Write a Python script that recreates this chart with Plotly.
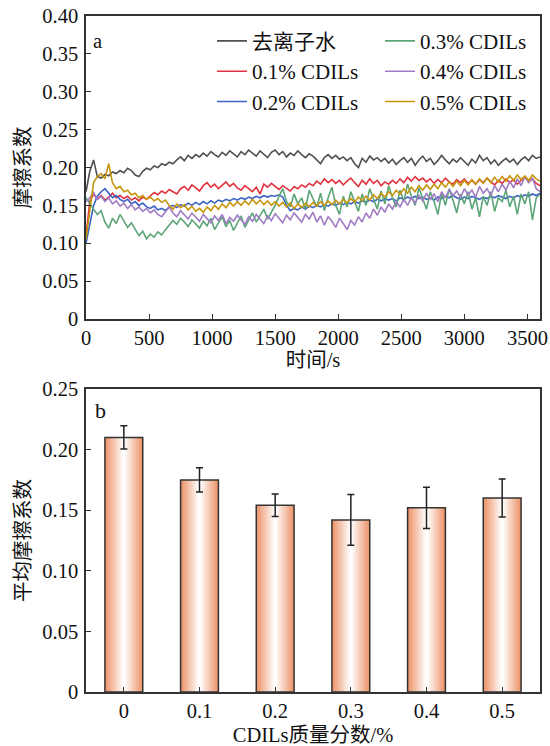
import plotly.graph_objects as go

# ---------------- data: panel a (friction coefficient vs time) ----------------
time_s = list(range(0, 3601, 30))

water = [0.168, 0.195, 0.210, 0.188, 0.186, 0.191, 0.189, 0.194, 0.192, 0.196,
         0.193, 0.199, 0.196, 0.190, 0.188, 0.195, 0.199, 0.197, 0.202, 0.200,
         0.205, 0.203, 0.207, 0.205, 0.210, 0.214, 0.209, 0.216, 0.212, 0.217,
         0.214, 0.219, 0.215, 0.221, 0.217, 0.214, 0.220, 0.216, 0.222, 0.218,
         0.214, 0.221, 0.217, 0.223, 0.219, 0.215, 0.222, 0.218, 0.213, 0.220,
         0.223, 0.217, 0.221, 0.214, 0.219, 0.216, 0.222, 0.217, 0.213, 0.218,
         0.215, 0.210, 0.205, 0.213, 0.217, 0.212, 0.216, 0.211, 0.214, 0.209,
         0.213, 0.205, 0.200, 0.212, 0.207, 0.215, 0.210, 0.213, 0.208, 0.212,
         0.206, 0.211, 0.204, 0.209, 0.213, 0.207, 0.212, 0.203, 0.210, 0.215,
         0.208, 0.212, 0.204, 0.209, 0.216, 0.210, 0.205, 0.211, 0.207, 0.213,
         0.208, 0.203, 0.211, 0.206, 0.216, 0.209, 0.213, 0.205, 0.210, 0.203,
         0.208, 0.212, 0.207, 0.211, 0.204, 0.210, 0.214, 0.209, 0.216, 0.212,
         0.214]

cdils_01 = [0.110, 0.155, 0.165, 0.158, 0.163, 0.157, 0.161, 0.166, 0.160, 0.163,
            0.159, 0.162, 0.157, 0.160, 0.156, 0.161, 0.158, 0.163, 0.167, 0.164,
            0.169, 0.166, 0.171, 0.168, 0.165, 0.172, 0.175, 0.170, 0.177, 0.173,
            0.169, 0.176, 0.180, 0.174, 0.178, 0.172, 0.177, 0.181, 0.175, 0.179,
            0.173, 0.170, 0.176, 0.172, 0.168, 0.174, 0.165, 0.178, 0.174, 0.179,
            0.175, 0.171, 0.176, 0.173, 0.169, 0.175, 0.172, 0.177, 0.174, 0.179,
            0.176, 0.182, 0.178, 0.185, 0.180, 0.184, 0.179, 0.183, 0.177, 0.182,
            0.186, 0.180, 0.175, 0.183, 0.178, 0.185, 0.179, 0.183, 0.176, 0.181,
            0.178, 0.183, 0.179, 0.185, 0.180, 0.187, 0.182, 0.188, 0.183, 0.186,
            0.181, 0.185, 0.179, 0.184, 0.180, 0.186, 0.181, 0.178, 0.184, 0.180,
            0.185, 0.179, 0.183, 0.178, 0.184, 0.180, 0.186, 0.181, 0.177, 0.183,
            0.179, 0.185, 0.180, 0.184, 0.178, 0.183, 0.187, 0.181, 0.185, 0.179,
            0.176]

cdils_02 = [0.100, 0.125, 0.150, 0.162, 0.168, 0.172, 0.166, 0.160, 0.163, 0.158,
            0.155, 0.158, 0.152, 0.155, 0.150, 0.153, 0.148, 0.146, 0.149, 0.144,
            0.146, 0.143, 0.148, 0.150, 0.147, 0.151, 0.149, 0.153, 0.150, 0.154,
            0.151, 0.155, 0.152, 0.156, 0.153, 0.157, 0.155, 0.158, 0.156, 0.159,
            0.157, 0.160, 0.158, 0.161, 0.159, 0.162, 0.160, 0.163, 0.161, 0.163,
            0.162, 0.164, 0.161, 0.150, 0.143, 0.146, 0.144, 0.148, 0.145, 0.149,
            0.147, 0.150, 0.148, 0.151, 0.149, 0.152, 0.150, 0.153, 0.151, 0.154,
            0.152, 0.155, 0.153, 0.156, 0.154, 0.157, 0.155, 0.158, 0.156, 0.159,
            0.157, 0.159, 0.156, 0.160, 0.158, 0.161, 0.159, 0.162, 0.159, 0.161,
            0.158, 0.160, 0.157, 0.161, 0.159, 0.162, 0.160, 0.163, 0.160, 0.158,
            0.161, 0.159, 0.162, 0.160, 0.158, 0.161, 0.159, 0.162, 0.160, 0.163,
            0.161, 0.159, 0.162, 0.160, 0.163, 0.161, 0.164, 0.162, 0.165, 0.163,
            0.166]

cdils_03 = [0.160, 0.152, 0.145, 0.138, 0.143, 0.128, 0.120, 0.133, 0.126, 0.138,
            0.130, 0.121, 0.127, 0.118, 0.110, 0.116, 0.106, 0.112, 0.108, 0.115,
            0.111, 0.118, 0.124, 0.130, 0.125, 0.133, 0.128, 0.122, 0.131, 0.126,
            0.120, 0.129, 0.123, 0.133, 0.118, 0.127, 0.135, 0.122, 0.130, 0.117,
            0.126, 0.136, 0.121, 0.130, 0.140, 0.128, 0.137, 0.145, 0.132, 0.141,
            0.150, 0.162, 0.172, 0.155, 0.148, 0.165, 0.152, 0.160, 0.145, 0.170,
            0.158, 0.148, 0.166, 0.143, 0.160, 0.174, 0.150, 0.138, 0.162, 0.148,
            0.168, 0.155, 0.142, 0.165, 0.150, 0.172, 0.158, 0.145, 0.169, 0.152,
            0.176, 0.160, 0.148, 0.170, 0.155, 0.178, 0.162, 0.150, 0.173, 0.158,
            0.145, 0.168, 0.155, 0.138, 0.166, 0.150, 0.172, 0.157, 0.140, 0.165,
            0.152, 0.168, 0.145, 0.160, 0.135, 0.162, 0.150, 0.168, 0.142, 0.160,
            0.155, 0.170, 0.148, 0.162, 0.138, 0.165, 0.152, 0.168, 0.131, 0.160,
            0.165]

cdils_04 = [0.155, 0.160, 0.167, 0.158, 0.162, 0.155, 0.160, 0.152, 0.156, 0.149,
            0.153, 0.146, 0.151, 0.144, 0.148, 0.142, 0.146, 0.140, 0.144, 0.138,
            0.135, 0.142, 0.148, 0.140, 0.135, 0.143, 0.137, 0.132, 0.140, 0.134,
            0.129, 0.138, 0.132, 0.127, 0.136, 0.130, 0.138, 0.126, 0.134, 0.129,
            0.137, 0.131, 0.125, 0.135, 0.129, 0.138, 0.132, 0.126, 0.136, 0.130,
            0.139, 0.133, 0.127, 0.137, 0.131, 0.140, 0.134, 0.128, 0.138, 0.132,
            0.141, 0.128, 0.136, 0.124, 0.135, 0.129, 0.121, 0.133, 0.126, 0.118,
            0.130, 0.124, 0.135, 0.128, 0.140, 0.133, 0.145, 0.137, 0.148, 0.141,
            0.152, 0.145, 0.155, 0.148, 0.158, 0.150, 0.160, 0.153, 0.163, 0.156,
            0.166, 0.158, 0.165, 0.155, 0.168, 0.160, 0.171, 0.163, 0.169, 0.160,
            0.172, 0.164, 0.170, 0.161, 0.175, 0.166, 0.172, 0.163, 0.176, 0.168,
            0.178, 0.170, 0.182, 0.173, 0.185, 0.176, 0.188, 0.180, 0.186, 0.172,
            0.168]

cdils_05 = [0.105, 0.140, 0.180, 0.188, 0.192, 0.185, 0.205, 0.180, 0.172, 0.175,
            0.168, 0.170, 0.164, 0.166, 0.160, 0.163, 0.158, 0.161, 0.156, 0.159,
            0.154, 0.157, 0.150, 0.145, 0.152, 0.147, 0.151, 0.144, 0.149, 0.142,
            0.146, 0.141, 0.148, 0.143, 0.150, 0.145, 0.152, 0.147, 0.154, 0.149,
            0.155, 0.150, 0.156, 0.151, 0.158, 0.152, 0.157, 0.151, 0.156, 0.150,
            0.155, 0.149, 0.154, 0.148, 0.153, 0.146, 0.152, 0.147, 0.153, 0.148,
            0.154, 0.149, 0.155, 0.150, 0.156, 0.151, 0.157, 0.152, 0.158, 0.153,
            0.159, 0.154, 0.161, 0.156, 0.162, 0.157, 0.164, 0.159, 0.166, 0.161,
            0.168, 0.163, 0.170, 0.165, 0.172, 0.166, 0.174, 0.168, 0.176, 0.170,
            0.177, 0.171, 0.178, 0.172, 0.180, 0.174, 0.181, 0.175, 0.182, 0.176,
            0.183, 0.177, 0.184, 0.178, 0.185, 0.179, 0.186, 0.180, 0.187, 0.181,
            0.188, 0.182, 0.189, 0.183, 0.190, 0.184, 0.189, 0.183, 0.190, 0.185,
            0.182]

series_names = ["去离子水", "0.1% CDILs", "0.2% CDILs", "0.3% CDILs", "0.4% CDILs", "0.5% CDILs"]
series_values = [water, cdils_01, cdils_02, cdils_03, cdils_04, cdils_05]
series_colors = ["#505050", "#e0323f", "#3a62c4", "#5ba578", "#a07cc4", "#c8960e"]
series_legend = ["legend", "legend", "legend", "legend2", "legend2", "legend2"]

y_ticks_a = [0, 0.05, 0.10, 0.15, 0.20, 0.25, 0.30, 0.35, 0.40]
y_ticktext_a = ["0", "0.05", "0.10", "0.15", "0.20", "0.25", "0.30", "0.35", "0.40"]
x_ticks_a = [0, 500, 1000, 1500, 2000, 2500, 3000, 3500]

# ---------------- data: panel b (average friction coefficient) ----------------
concentrations = ["0", "0.1", "0.2", "0.3", "0.4", "0.5"]
mean_cof = [0.210, 0.175, 0.154, 0.142, 0.152, 0.160]
cof_err = [0.0096, 0.010, 0.0093, 0.021, 0.017, 0.0157]

y_ticks_b = [0, 0.05, 0.10, 0.15, 0.20, 0.25]
y_ticktext_b = ["0", "0.05", "0.10", "0.15", "0.20", "0.25"]

# ---------------- style ----------------
FONT = "Liberation Serif, Noto Sans CJK SC, serif"
AX = "#333333"
TICK_SIZE = 20.5
TITLE_SIZE = 20.5
LEG_SIZE = 21

fig = go.Figure()

for name, vals, col, lg in zip(series_names, series_values, series_colors, series_legend):
    fig.add_trace(go.Scatter(
        x=time_s, y=vals, mode="lines", name=name,
        line=dict(color=col, width=1.6),
        xaxis="x", yaxis="y", legend=lg,
    ))

# gradient bars: nested overlay bars from salmon edge to white centre
edge = (236, 148, 106)
n_layers = 16
for i in range(n_layers):
    f = i / (n_layers - 1)
    r = round(edge[0] + (255 - edge[0]) * f)
    g = round(edge[1] + (255 - edge[1]) * f)
    b = round(edge[2] + (255 - edge[2]) * f)
    w = 0.5 * (1 - i / n_layers)
    fig.add_trace(go.Bar(
        x=concentrations, y=mean_cof, width=w,
        marker=dict(color=f"rgb({r},{g},{b})", line=dict(width=0)),
        showlegend=False, hoverinfo="skip",
        xaxis="x2", yaxis="y2",
    ))

# outline + error bars on top
fig.add_trace(go.Bar(
    x=concentrations, y=mean_cof, width=0.5,
    marker=dict(color="rgba(0,0,0,0)", line=dict(color=AX, width=1.5)),
    error_y=dict(type="data", array=cof_err, visible=True,
                 color="#222222", thickness=1.5, width=3.5),
    showlegend=False,
    xaxis="x2", yaxis="y2",
))

axis_common = dict(
    showline=True, linecolor=AX, linewidth=1.5, mirror=True,
    ticks="inside", ticklen=5, tickwidth=1.3, tickcolor=AX,
    showgrid=False, zeroline=False,
    tickfont=dict(family=FONT, size=TICK_SIZE, color="#111111"),
    title_font=dict(family=FONT, size=TITLE_SIZE, color="#111111"),
)

top_bottom = 1 - (319 - 16) / 676
bot_top = (692 - 389) / 676

fig.update_layout(
    width=550, height=746,
    margin=dict(l=86, r=10, t=16, b=54, autoexpand=False),
    paper_bgcolor="white", plot_bgcolor="white",
    font=dict(family=FONT, color="#111111"),
    barmode="overlay",
    xaxis=dict(domain=[0, 1], anchor="y", range=[0, 3600], tickvals=x_ticks_a,
               title=dict(text="时间/s", standoff=2), **axis_common),
    yaxis=dict(domain=[top_bottom, 1], anchor="x", range=[0, 0.40],
               tickvals=y_ticks_a, ticktext=y_ticktext_a, ticklabelstandoff=2,
               title=dict(text="摩擦系数", standoff=6), **axis_common),
    xaxis2=dict(domain=[0, 1], anchor="y2", range=[-0.5, 5.5], type="category",
                title=dict(text="CDILs质量分数/%", standoff=6), **axis_common),
    yaxis2=dict(domain=[0, bot_top], anchor="x2", range=[0, 0.25],
                tickvals=y_ticks_b, ticktext=y_ticktext_b, ticklabelstandoff=2,
                title=dict(text="平均摩擦系数", standoff=6), **axis_common),
    legend=dict(x=0.2775, y=0.993, xanchor="left", yanchor="top",
                bgcolor="rgba(0,0,0,0)", borderwidth=0,
                font=dict(family=FONT, size=LEG_SIZE, color="#111111"),
                tracegroupgap=0),
    legend2=dict(x=0.6476, y=0.993, xanchor="left", yanchor="top",
                 bgcolor="rgba(0,0,0,0)", borderwidth=0,
                 font=dict(family=FONT, size=LEG_SIZE, color="#111111"),
                 tracegroupgap=0),
    annotations=[
        dict(text="a", x=0.012, y=1 - (41 - 16) / 676, xref="paper", yref="paper",
             xanchor="left", yanchor="middle", showarrow=False,
             font=dict(family=FONT, size=20.5, color="#111111")),
        dict(text="b", x=0.016, y=1 - (410 - 16) / 676, xref="paper", yref="paper",
             xanchor="left", yanchor="middle", showarrow=False,
             font=dict(family=FONT, size=22, color="#111111")),
    ],
)

fig.write_html("out.html", config={"displayModeBar": False},
               post_script="document.body.style.margin='0px';")
